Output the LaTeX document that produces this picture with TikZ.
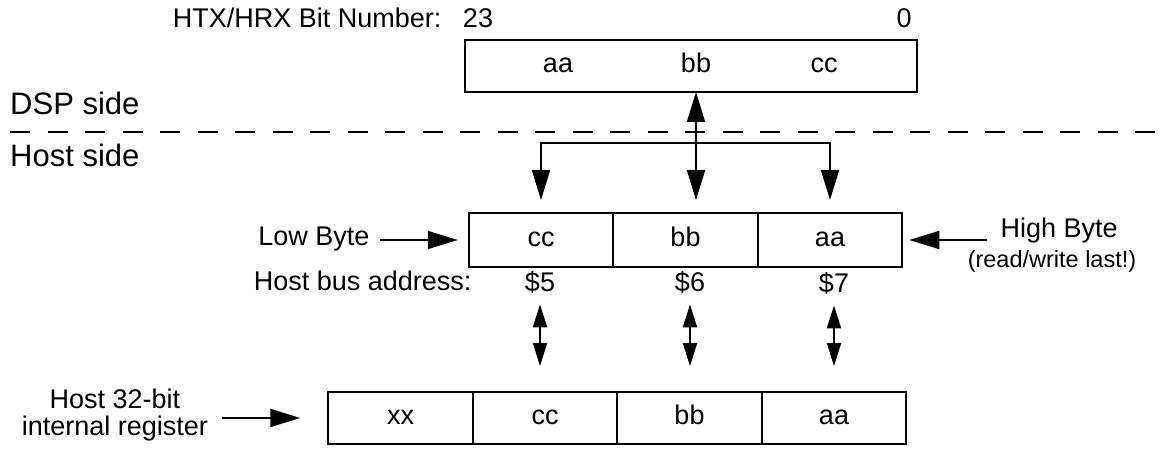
\documentclass[tikz,border=0pt]{standalone}
\usepackage{fontspec}
\setmainfont{Liberation Sans}
\usetikzlibrary{positioning, arrows.meta}

\begin{document}
\begin{tikzpicture}[
        x=1pt, y=-1pt,
        node distance=0pt,
        every node/.style={font=\fontsize{27}{27}\selectfont},
        reg/.style={draw, line width=2pt, minimum height=52pt, outer sep=0pt},
        cell/.style={reg, minimum width=144.5pt, minimum height=54pt, text height=18pt, text depth=5pt},
        arr/.style={line width=2pt, -{Triangle[length=30pt, width=18pt]}},
        biarr/.style={line width=2pt, {Triangle[length=30pt, width=18pt]}-{Triangle[length=30pt, width=18pt]}},
        shortarr/.style={line width=2pt, {Triangle[length=23pt, width=14pt]}-{Triangle[length=23pt, width=14pt]}},
        side/.style={font=\fontsize{31}{34}\selectfont, anchor=base west, inner sep=0pt},
        note/.style={font=\fontsize{23.5}{26}\selectfont}
    ]

    \useasboundingbox (0,0) rectangle (1167,449);

    \node[reg, minimum width=452pt] (dspreg) at (691,66) {};
    \node[anchor=base] (taa) at (558,73) {aa};
    \node[anchor=base] (tbb) at (696,73) {bb};
    \node[anchor=base] (tcc) at (824,73) {cc};
    \node[anchor=base] (msb) at (478,28) {23};
    \node[anchor=base] (lsb) at (904,28) {0};
    \node[anchor=base east] (bitnum) at (445,28) {HTX/HRX Bit Number:};

    \node[side] (dsplbl) at (10,115) {DSP side};
    \node[side] (hostlbl) at (10,167) {Host side};
    \coordinate (cutl) at (10,132);
    \coordinate (cutr) at (1167,132);
    \draw[line width=2pt, dash pattern=on 20pt off 17.5pt] (cutl) -- (cutr);

    \node[cell] (lcc) at (541,240) {cc};
    \node[cell, right=of lcc] (lbb) {bb};
    \node[cell, right=of lbb] (laa) {aa};

    \node[anchor=base east] (lowlbl) at (373,245) {Low Byte};
    \node[anchor=base west] (hihead) at (997,237) {High Byte};
    \node[note, anchor=base] (hinote) at (1052,267) {(read/write last!)};

    \node[anchor=base] (a5) at (540,291) {\$5};
    \node[anchor=base] (a6) at (690,291) {\$6};
    \node[anchor=base] (a7) at (834,292) {\$7};
    \node[anchor=base east] (busaddr) at (475,290) {Host bus address:};

    \node[cell, minimum height=52pt] (bxx) at (400.5,418) {xx};
    \node[cell, minimum height=52pt, right=of bxx] (bcc) {cc};
    \node[cell, minimum height=52pt, right=of bcc] (bbb) {bb};
    \node[cell, minimum height=52pt, right=of bbb] (baa) {aa};

    \node[align=center] (reglbl) at (115,415) {Host 32-bit\\internal register};

    \coordinate (fork) at (tbb |- 0,143);

    \draw[biarr, shorten >=13pt] (tbb |- dspreg.south) -- (tbb |- lbb.north);
    \draw[arr, shorten >=13pt] (fork) -| (lcc.north);
    \draw[arr, shorten >=13pt] (fork) -| (laa.north);

    \draw[arr, shorten <=7pt, shorten >=11pt] (lowlbl.east |- lcc) -- (lcc.west);
    \draw[arr, shorten >=7pt] ([xshift=-10pt]hihead.west |- laa) -- (laa.east);

    \draw[shortarr, shorten <=8pt, shorten >=26pt] (a5.south) -- (a5.south |- bcc.north);
    \draw[shortarr, shorten <=8pt, shorten >=26pt] (a6.south) -- (a6.south |- bbb.north);
    \draw[shortarr, shorten <=8pt, shorten >=26pt] (a7.south) -- (a7.south |- baa.north);

    \draw[arr, shorten <=10pt, shorten >=28pt] (reglbl.east |- bxx) -- (bxx.west);

    \end{tikzpicture}
\end{document}
